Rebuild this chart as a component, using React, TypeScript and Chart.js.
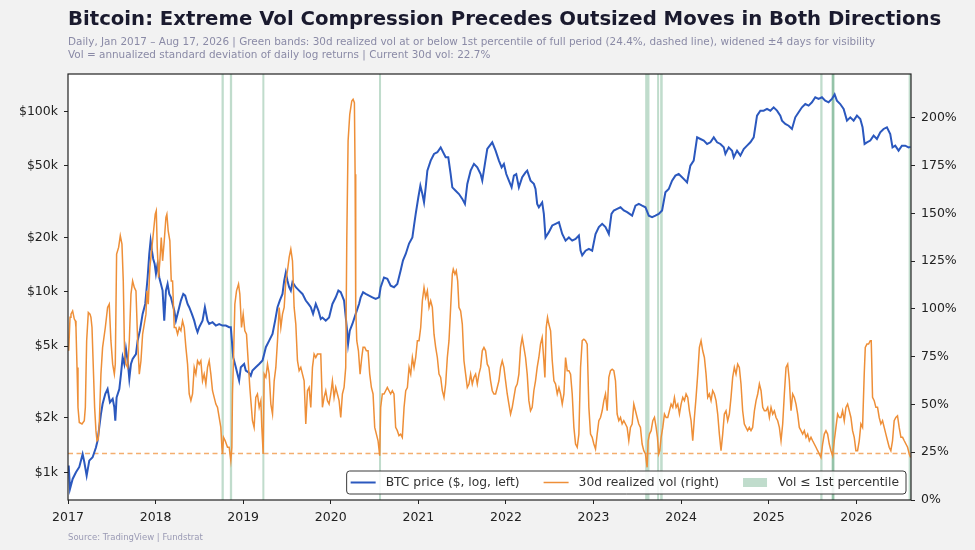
import { useEffect, useRef } from "react";
import { Chart, registerables } from "chart.js";

Chart.register(...registerables);

const TITLE = "Bitcoin: Extreme Vol Compression Precedes Outsized Moves in Both Directions";
const SUBTITLE_1 =
  "Daily, Jan 2017 \u2013 Aug 17, 2026 | Green bands: 30d realized vol at or below 1st percentile of full period (24.4%, dashed line), widened \u00b14 days for visibility";
const SUBTITLE_2 = "Vol = annualized standard deviation of daily log returns | Current 30d vol: 22.7%";
const SOURCE = "Source: TradingView | Fundstrat";

const LEGEND_LABELS = ["BTC price ($, log, left)", "30d realized vol (right)", "Vol \u2264 1st percentile"];

// x values are decimal years
const priceYears = [
  2017.008, 2017.023, 2017.053, 2017.091, 2017.129, 2017.167, 2017.186, 2017.213, 2017.243, 2017.281,
  2017.319, 2017.338, 2017.357, 2017.376, 2017.395, 2017.426, 2017.452, 2017.479, 2017.51, 2017.529,
  2017.54, 2017.555, 2017.586, 2017.605, 2017.624, 2017.643, 2017.662, 2017.681, 2017.7, 2017.719,
  2017.738, 2017.776, 2017.795, 2017.821, 2017.852, 2017.882, 2017.909, 2017.928, 2017.943, 2017.958,
  2017.973, 2017.989, 2018.004, 2018.023, 2018.042, 2018.061, 2018.08, 2018.099, 2018.118, 2018.137,
  2018.156, 2018.175, 2018.194, 2018.213, 2018.232, 2018.251, 2018.27, 2018.289, 2018.316, 2018.338,
  2018.365, 2018.384, 2018.414, 2018.441, 2018.46, 2018.479, 2018.498, 2018.536, 2018.563, 2018.593,
  2018.612, 2018.65, 2018.688, 2018.726, 2018.764, 2018.802, 2018.84, 2018.859, 2018.871, 2018.886,
  2018.916, 2018.935, 2018.954, 2018.973, 2019.011, 2019.03, 2019.061, 2019.087, 2019.106, 2019.144,
  2019.183, 2019.221, 2019.24, 2019.259, 2019.297, 2019.335, 2019.365, 2019.392, 2019.418, 2019.449,
  2019.468, 2019.487, 2019.506, 2019.525, 2019.544, 2019.563, 2019.601, 2019.639, 2019.677, 2019.715,
  2019.745, 2019.772, 2019.798, 2019.829, 2019.859, 2019.886, 2019.905, 2019.943, 2019.981, 2020.019,
  2020.057, 2020.087, 2020.114, 2020.152, 2020.183, 2020.198, 2020.217, 2020.247, 2020.285, 2020.323,
  2020.342, 2020.369, 2020.399, 2020.437, 2020.475, 2020.513, 2020.551, 2020.57, 2020.608, 2020.646,
  2020.684, 2020.722, 2020.76, 2020.798, 2020.825, 2020.856, 2020.894, 2020.932, 2020.951, 2020.97,
  2021.0, 2021.023, 2021.046, 2021.065, 2021.084, 2021.103, 2021.141, 2021.179, 2021.217, 2021.255,
  2021.293, 2021.312, 2021.342, 2021.369, 2021.388, 2021.426, 2021.464, 2021.502, 2021.532, 2021.559,
  2021.597, 2021.635, 2021.673, 2021.711, 2021.73, 2021.76, 2021.787, 2021.844, 2021.882, 2021.92,
  2021.951, 2021.977, 2022.004, 2022.034, 2022.065, 2022.091, 2022.118, 2022.148, 2022.186, 2022.224,
  2022.243, 2022.281, 2022.319, 2022.338, 2022.357, 2022.376, 2022.414, 2022.433, 2022.452, 2022.49,
  2022.529, 2022.567, 2022.605, 2022.643, 2022.681, 2022.719, 2022.757, 2022.795, 2022.833, 2022.852,
  2022.871, 2022.909, 2022.947, 2022.985, 2023.023, 2023.061, 2023.099, 2023.137, 2023.175, 2023.205,
  2023.232, 2023.27, 2023.308, 2023.346, 2023.384, 2023.441, 2023.479, 2023.517, 2023.555, 2023.593,
  2023.631, 2023.669, 2023.707, 2023.745, 2023.783, 2023.821, 2023.859, 2023.897, 2023.935, 2023.973,
  2024.011, 2024.049, 2024.068, 2024.106, 2024.144, 2024.183, 2024.221, 2024.259, 2024.297, 2024.335,
  2024.373, 2024.411, 2024.449, 2024.487, 2024.506, 2024.544, 2024.582, 2024.601, 2024.639, 2024.677,
  2024.715, 2024.753, 2024.791, 2024.829, 2024.867, 2024.905, 2024.943, 2024.981, 2025.019, 2025.057,
  2025.095, 2025.133, 2025.152, 2025.19, 2025.228, 2025.266, 2025.304, 2025.342, 2025.38, 2025.418,
  2025.456, 2025.494, 2025.532, 2025.57, 2025.608, 2025.646, 2025.684, 2025.722, 2025.753, 2025.779,
  2025.817, 2025.856, 2025.894, 2025.932, 2025.97, 2026.008, 2026.046, 2026.072, 2026.095, 2026.122,
  2026.16, 2026.198, 2026.236, 2026.274, 2026.312, 2026.35, 2026.388, 2026.414, 2026.445, 2026.483,
  2026.521, 2026.559, 2026.597, 2026.62,
];

const priceUSD = [
  1090, 808, 918, 1000, 1070, 1260, 1140, 958, 1160, 1210,
  1370, 1500, 1780, 2100, 2390, 2720, 2890, 2440, 2550, 2290,
  1930, 2600, 2890, 3500, 4340, 3980, 4820, 4160, 3290, 3980,
  4250, 4520, 5360, 6090, 7540, 8560, 12000, 16200, 19200, 16900,
  15200, 14300, 12600, 14300, 12000, 11050, 10150, 6920, 10150, 11050,
  9730, 9320, 8560, 7870, 6920, 7540, 8210, 8940, 9730, 9520,
  8560, 8210, 7540, 6920, 6360, 5970, 6360, 6920, 8210, 6920,
  6630, 6780, 6500, 6630, 6500, 6500, 6360, 6360, 5360, 4340,
  3820, 3500, 3220, 3820, 3980, 3660, 3580, 3430, 3660, 3820,
  3980, 4160, 4520, 4930, 5360, 5840, 6920, 8210, 8940, 9730,
  11500, 12800, 11500, 10600, 10150, 11300, 10600, 10150, 9730, 8940,
  8560, 8210, 7540, 8560, 7870, 7070, 7200, 6920, 7200, 8560,
  9320, 10150, 9940, 8940, 6360, 5140, 6090, 6630, 7540, 8560,
  9320, 9940, 9730, 9520, 9320, 9130, 9320, 10600, 12000, 11800,
  10800, 10600, 11050, 13100, 14950, 16200, 18500, 20000, 23300, 27000,
  33400, 38700, 34800, 31300, 37900, 46900, 53300, 58000, 59300, 63100,
  58000, 55600, 55600, 44900, 37900, 36300, 34800, 32700, 30700, 39600,
  46900, 51100, 48900, 44900, 41300, 51100, 61800, 67300, 60500, 53300,
  48900, 51100, 44900, 41300, 37900, 44000, 44900, 37900, 43100, 45900,
  46900, 41300, 39600, 37100, 30700, 29400, 31300, 27000, 20000, 21400,
  23300, 23800, 24300, 20900, 19200, 20000, 19200, 19600, 20500, 16900,
  15900, 16900, 17300, 16900, 20900, 22800, 23800, 22800, 20900, 27000,
  28200, 28800, 29400, 28200, 27600, 26400, 30000, 30700, 30000, 29400,
  26400, 25900, 26400, 27000, 28200, 35600, 37100, 41300, 44000, 44900,
  43100, 41300, 40400, 50000, 53300, 71700, 70200, 68800, 65900, 67300,
  71700, 67300, 65900, 63100, 58000, 63100, 60500, 55600, 60500, 56800,
  61800, 64500, 67300, 71700, 94600, 100800, 100800, 103000, 100800, 105200,
  100800, 94600, 88800, 85100, 83200, 79800, 92600, 98700, 105200, 109700,
  107500, 112100, 119500, 117000, 119500, 114500, 112100, 117000, 124000, 114500,
  109700, 103000, 88800, 92600, 88800, 94600, 90700, 81500, 65900, 67300,
  68800, 73300, 70200, 76400, 79800, 81500, 74800, 63100, 64500, 60500,
  64500, 64500, 63100, 63500,
];

const volYears = [
  2017.008, 2017.023, 2017.034, 2017.053, 2017.072, 2017.084, 2017.091, 2017.103, 2017.114, 2017.129,
  2017.16, 2017.186, 2017.198, 2017.213, 2017.232, 2017.251, 2017.262, 2017.274, 2017.289, 2017.304,
  2017.319, 2017.331, 2017.346, 2017.357, 2017.376, 2017.395, 2017.426, 2017.452, 2017.471, 2017.49,
  2017.51, 2017.529, 2017.54, 2017.555, 2017.578, 2017.597, 2017.616, 2017.631, 2017.646, 2017.662,
  2017.681, 2017.7, 2017.719, 2017.738, 2017.757, 2017.776, 2017.795, 2017.814, 2017.833, 2017.852,
  2017.871, 2017.89, 2017.901, 2017.916, 2017.935, 2017.958, 2017.977, 2017.996, 2018.008, 2018.019,
  2018.034, 2018.049, 2018.065, 2018.08, 2018.099, 2018.118, 2018.129, 2018.144, 2018.163, 2018.179,
  2018.194, 2018.213, 2018.232, 2018.251, 2018.27, 2018.289, 2018.308, 2018.327, 2018.346, 2018.365,
  2018.384, 2018.403, 2018.422, 2018.441, 2018.46, 2018.479, 2018.498, 2018.517, 2018.536, 2018.555,
  2018.574, 2018.593, 2018.612, 2018.631, 2018.65, 2018.669, 2018.688, 2018.707, 2018.726, 2018.745,
  2018.757, 2018.764, 2018.776, 2018.795, 2018.821, 2018.84, 2018.859, 2018.871, 2018.878, 2018.89,
  2018.905, 2018.924, 2018.947, 2018.962, 2018.981, 2019.0, 2019.019, 2019.038, 2019.057, 2019.076,
  2019.091, 2019.106, 2019.125, 2019.144, 2019.163, 2019.183, 2019.202, 2019.213, 2019.221, 2019.228,
  2019.24, 2019.259, 2019.278, 2019.297, 2019.316, 2019.335, 2019.354, 2019.373, 2019.392, 2019.411,
  2019.43, 2019.449, 2019.468, 2019.487, 2019.506, 2019.525, 2019.544, 2019.563, 2019.582, 2019.601,
  2019.62, 2019.639, 2019.658, 2019.677, 2019.696, 2019.715, 2019.734, 2019.753, 2019.772, 2019.791,
  2019.81, 2019.829, 2019.848, 2019.867, 2019.886, 2019.905, 2019.924, 2019.943, 2019.962, 2019.981,
  2020.0, 2020.019, 2020.038, 2020.057, 2020.076, 2020.095, 2020.114, 2020.133, 2020.152, 2020.171,
  2020.183, 2020.198, 2020.217, 2020.24, 2020.255, 2020.27, 2020.278, 2020.285, 2020.297, 2020.316,
  2020.335, 2020.354, 2020.369, 2020.388, 2020.407, 2020.426, 2020.445, 2020.464, 2020.483, 2020.502,
  2020.521, 2020.54, 2020.559, 2020.57, 2020.589, 2020.608, 2020.627, 2020.646, 2020.665, 2020.684,
  2020.703, 2020.722, 2020.741, 2020.76, 2020.779, 2020.798, 2020.817, 2020.837, 2020.856, 2020.875,
  2020.894, 2020.913, 2020.932, 2020.951, 2020.97, 2020.989, 2021.008, 2021.027, 2021.046, 2021.065,
  2021.084, 2021.103, 2021.122, 2021.141, 2021.16, 2021.179, 2021.198, 2021.217, 2021.236, 2021.255,
  2021.274, 2021.293, 2021.312, 2021.331, 2021.35, 2021.369, 2021.388, 2021.399, 2021.418, 2021.433,
  2021.449, 2021.464, 2021.483, 2021.502, 2021.521, 2021.54, 2021.559, 2021.578, 2021.597, 2021.616,
  2021.635, 2021.654, 2021.673, 2021.692, 2021.711, 2021.73, 2021.749, 2021.768, 2021.787, 2021.806,
  2021.825, 2021.844, 2021.863, 2021.882, 2021.901, 2021.92, 2021.939, 2021.958, 2021.977, 2021.996,
  2022.015, 2022.034, 2022.053, 2022.072, 2022.091, 2022.11, 2022.129, 2022.148, 2022.167, 2022.186,
  2022.205, 2022.224, 2022.243, 2022.262, 2022.281, 2022.3, 2022.319, 2022.338, 2022.357, 2022.376,
  2022.395, 2022.414, 2022.433, 2022.445, 2022.46, 2022.475, 2022.49, 2022.51, 2022.529, 2022.548,
  2022.567, 2022.586, 2022.605, 2022.624, 2022.643, 2022.662, 2022.681, 2022.7, 2022.719, 2022.738,
  2022.757, 2022.776, 2022.795, 2022.814, 2022.833, 2022.852, 2022.871, 2022.89, 2022.909, 2022.928,
  2022.947, 2022.966, 2022.985, 2023.004, 2023.023, 2023.042, 2023.061, 2023.08, 2023.099, 2023.118,
  2023.137, 2023.156, 2023.175, 2023.194, 2023.213, 2023.232, 2023.251, 2023.27, 2023.289, 2023.308,
  2023.327, 2023.346, 2023.365, 2023.384, 2023.403, 2023.422, 2023.441, 2023.46, 2023.479, 2023.498,
  2023.517, 2023.536, 2023.555, 2023.574, 2023.593, 2023.612, 2023.624, 2023.639, 2023.658, 2023.677,
  2023.696, 2023.715, 2023.73, 2023.745, 2023.757, 2023.772, 2023.791, 2023.81, 2023.829, 2023.848,
  2023.867, 2023.886, 2023.905, 2023.924, 2023.943, 2023.962, 2023.981, 2024.0, 2024.019, 2024.038,
  2024.057, 2024.076, 2024.095, 2024.114, 2024.133, 2024.152, 2024.171, 2024.19, 2024.209, 2024.228,
  2024.247, 2024.266, 2024.285, 2024.304, 2024.323, 2024.342, 2024.361, 2024.38, 2024.399, 2024.418,
  2024.437, 2024.456, 2024.475, 2024.494, 2024.513, 2024.532, 2024.551, 2024.57, 2024.589, 2024.608,
  2024.627, 2024.646, 2024.665, 2024.684, 2024.703, 2024.722, 2024.741, 2024.76, 2024.779, 2024.798,
  2024.817, 2024.837, 2024.856, 2024.875, 2024.894, 2024.913, 2024.932, 2024.951, 2024.97, 2024.989,
  2025.008, 2025.027, 2025.046, 2025.065, 2025.084, 2025.103, 2025.122, 2025.141, 2025.16, 2025.179,
  2025.198, 2025.217, 2025.236, 2025.255, 2025.274, 2025.293, 2025.312, 2025.331, 2025.35, 2025.369,
  2025.388, 2025.407, 2025.426, 2025.445, 2025.464, 2025.483, 2025.502, 2025.521, 2025.54, 2025.559,
  2025.578, 2025.597, 2025.616, 2025.635, 2025.654, 2025.673, 2025.692, 2025.711, 2025.73, 2025.749,
  2025.768, 2025.787, 2025.806, 2025.825, 2025.844, 2025.863, 2025.882, 2025.901, 2025.92, 2025.939,
  2025.958, 2025.977, 2025.996, 2026.015, 2026.034, 2026.053, 2026.072, 2026.091, 2026.103, 2026.122,
  2026.141, 2026.16, 2026.171, 2026.186, 2026.205, 2026.224, 2026.243, 2026.262, 2026.281, 2026.3,
  2026.319, 2026.338, 2026.357, 2026.376, 2026.395, 2026.414, 2026.433, 2026.452, 2026.471, 2026.49,
  2026.51, 2026.529, 2026.548, 2026.567, 2026.586, 2026.605, 2026.62,
];

const volPct = [
  78.1, 95.6, 97.3, 99.0, 94.7, 93.8, 90.3, 69.4, 48.5, 40.6,
  39.8, 41.5, 48.5, 83.4, 98.2, 97.3, 95.6, 90.3, 69.4, 48.5,
  36.3, 31.0, 31.9, 39.8, 65.9, 79.9, 90.3, 100.8, 102.5, 83.4,
  71.1, 65.9, 71.1, 128.7, 132.2, 138.3, 133.9, 114.7, 76.4, 71.1,
  69.4, 83.4, 107.8, 114.7, 111.3, 109.5, 83.4, 65.9, 72.9, 86.8,
  92.1, 97.3, 109.5, 102.5, 121.7, 132.2, 140.9, 149.6, 151.4, 132.2,
  116.5, 125.2, 137.4, 125.2, 135.7, 147.9, 149.6, 140.9, 135.7, 114.7,
  114.7, 90.3, 90.3, 86.8, 90.3, 88.6, 93.8, 90.3, 79.9, 71.1,
  55.5, 52.0, 55.5, 69.4, 65.9, 72.9, 71.1, 72.9, 62.4, 65.9,
  60.7, 69.4, 72.9, 65.9, 57.2, 53.7, 50.2, 48.5, 43.2, 38.0,
  27.6, 24.1, 32.8, 31.0, 27.6, 27.6, 20.6, 27.6, 55.5, 74.6,
  102.5, 109.5, 113.0, 107.8, 90.3, 97.3, 88.6, 86.8, 72.9, 58.9,
  50.2, 41.5, 38.0, 53.7, 55.5, 48.5, 52.0, 38.0, 31.0, 24.1,
  65.9, 64.2, 71.1, 65.9, 50.2, 45.0, 62.4, 69.4, 83.4, 100.8,
  90.3, 97.3, 100.8, 114.7, 120.0, 127.0, 131.3, 125.2, 100.8, 92.1,
  72.9, 67.7, 69.4, 65.9, 62.4, 39.8, 57.2, 58.9, 48.5, 69.4,
  76.4, 74.6, 76.4, 76.4, 76.4, 48.5, 53.7, 57.2, 52.0, 50.2,
  55.5, 62.4, 53.7, 58.9, 55.5, 52.0, 43.2, 55.5, 58.9, 69.4,
  135.7, 188.0, 201.9, 208.9, 209.8, 208.0, 170.5, 100.8, 83.4, 78.1,
  65.9, 74.6, 79.9, 79.9, 78.1, 78.1, 65.9, 58.9, 55.5, 38.0,
  34.5, 31.0, 23.2, 48.5, 55.5, 55.5, 57.2, 58.9, 57.2, 55.5,
  57.2, 55.5, 38.0, 36.3, 33.7, 34.5, 32.8, 48.5, 57.2, 58.9,
  69.4, 65.9, 74.6, 69.4, 74.6, 83.4, 83.4, 90.3, 104.3, 111.3,
  106.0, 109.5, 100.8, 104.3, 100.8, 86.8, 79.9, 74.6, 65.9, 64.2,
  57.2, 53.7, 60.7, 74.6, 83.4, 100.8, 118.2, 120.8, 118.2, 120.0,
  114.7, 100.8, 99.0, 92.1, 72.9, 65.9, 58.9, 60.7, 65.9, 60.7,
  64.2, 65.9, 60.7, 65.9, 69.4, 78.1, 79.9, 78.1, 71.1, 69.4,
  62.4, 57.2, 55.5, 55.5, 58.9, 62.4, 69.4, 72.9, 69.4, 62.4,
  55.5, 50.2, 45.0, 48.5, 53.7, 58.9, 60.7, 65.9, 79.9, 85.1,
  79.9, 74.6, 65.9, 52.0, 46.7, 48.5, 57.2, 62.4, 69.4, 74.6,
  81.6, 85.1, 72.9, 64.2, 90.3, 95.6, 92.1, 88.6, 72.9, 62.4,
  60.7, 55.5, 58.9, 55.5, 50.2, 55.5, 74.6, 67.7, 67.7, 65.9,
  55.5, 38.0, 29.3, 27.6, 34.5, 69.4, 83.4, 84.2, 83.4, 81.6,
  48.5, 34.5, 32.8, 29.3, 26.7, 34.5, 41.5, 43.2, 46.7, 52.0,
  55.5, 46.7, 64.2, 67.7, 68.5, 67.7, 62.4, 45.0, 41.5, 43.2,
  39.8, 41.5, 39.8, 38.0, 31.0, 38.0, 39.8, 50.2, 46.7, 43.2,
  39.8, 38.0, 29.3, 25.8, 24.1, 17.1, 31.0, 34.5, 36.3, 41.5,
  43.2, 38.0, 32.8, 24.1, 25.8, 32.8, 38.0, 45.0, 43.2, 43.2,
  46.7, 50.2, 48.5, 53.7, 48.5, 50.2, 45.0, 50.2, 53.7, 52.0,
  55.5, 53.7, 46.7, 41.5, 31.0, 43.2, 53.7, 65.9, 79.9, 83.4,
  78.1, 74.6, 65.9, 53.7, 55.5, 52.0, 57.2, 55.5, 52.0, 45.0,
  34.5, 25.8, 34.5, 45.0, 46.7, 41.5, 45.0, 53.7, 64.2, 69.4,
  65.9, 71.1, 69.4, 60.7, 46.7, 39.8, 38.0, 36.3, 38.0, 36.3,
  38.0, 46.7, 52.0, 55.5, 60.7, 57.2, 48.5, 46.7, 46.7, 48.5,
  43.2, 48.5, 45.0, 46.7, 43.2, 41.5, 38.0, 31.0, 39.8, 55.5,
  69.4, 71.1, 62.4, 46.7, 55.5, 53.7, 50.2, 45.0, 38.0, 36.3,
  34.5, 36.3, 32.8, 34.5, 31.0, 32.8, 31.0, 29.3, 27.6, 25.8,
  24.1, 22.3, 29.3, 34.5, 36.3, 34.5, 29.3, 25.8, 23.2, 31.0,
  38.0, 45.0, 43.2, 43.2, 46.7, 41.5, 48.5, 50.2, 46.7, 43.2,
  36.3, 32.8, 25.8, 25.8, 31.0, 39.8, 38.0, 65.9, 79.9, 81.6,
  81.6, 83.4, 83.4, 53.7, 52.0, 48.5, 48.5, 43.2, 39.8, 41.5,
  38.0, 34.5, 31.0, 27.6, 25.8, 31.0, 41.5, 43.2, 44.1, 38.0,
  32.8, 32.8, 31.0, 29.3, 27.6, 24.1, 22.3,
];

// low-vol bands (decimal years), drawn with transparency so overlaps look darker
const bandStart = [2018.753, 2018.848, 2019.219, 2020.551, 2023.59, 2023.726, 2023.761, 2025.589, 2025.718, 2025.722, 2026.598];
const bandEnd = [2018.779, 2018.874, 2019.242, 2020.574, 2023.639, 2023.749, 2023.79, 2025.615, 2025.748, 2025.752, 2026.625];

const VOL_P1 = 24.4;

const yearTicks = [2017, 2018, 2019, 2020, 2021, 2022, 2023, 2024, 2025, 2026];
const priceTicks = [1000, 2000, 5000, 10000, 20000, 50000, 100000];
const priceTickLabels = ["$1k", "$2k", "$5k", "$10k", "$20k", "$50k", "$100k"];
const volTicks = [0, 25, 50, 75, 100, 125, 150, 175, 200];

const X_MIN = 2017;
const X_MAX = 2026.625;
const PRICE_MIN = 702;
const PRICE_MAX = 160900;
const VOL_MIN = 0;
const VOL_MAX = 223;

const BLUE = "#2b58be";
const ORANGE = "#ee8f38";
const BAND = "rgba(46, 139, 87, 0.3)";
const FONT = "'DejaVu Sans', 'Liberation Sans', sans-serif";
const AXIS_COLOR = "#222222";

export default function App() {
  const canvasRef = useRef<HTMLCanvasElement | null>(null);

  useEffect(() => {
    const canvas = canvasRef.current;
    if (!canvas) return;

    const backgroundPlugin = {
      id: "plotBackground",
      beforeDraw(chart: any) {
        const { ctx, chartArea } = chart;
        ctx.save();
        ctx.fillStyle = "#ffffff";
        ctx.fillRect(chartArea.left, chartArea.top, chartArea.right - chartArea.left, chartArea.bottom - chartArea.top);
        ctx.restore();
      },
    };

    const bandsPlugin = {
      id: "volBands",
      beforeDatasetsDraw(chart: any) {
        const { ctx, chartArea, scales } = chart;
        const xs = scales.x;
        ctx.save();
        ctx.beginPath();
        ctx.rect(chartArea.left, chartArea.top, chartArea.right - chartArea.left, chartArea.bottom - chartArea.top);
        ctx.clip();
        ctx.fillStyle = BAND;
        for (let i = 0; i < bandStart.length; i++) {
          const x0 = xs.getPixelForValue(bandStart[i]);
          const x1 = xs.getPixelForValue(bandEnd[i]);
          ctx.fillRect(x0, chartArea.top, Math.max(1, x1 - x0), chartArea.bottom - chartArea.top);
        }
        // percentile dashed line
        const yv = Math.round(scales.yVol.getPixelForValue(VOL_P1)) + 0.5;
        ctx.strokeStyle = "rgba(242, 160, 85, 0.85)";
        ctx.lineWidth = 1.4;
        ctx.setLineDash([5, 3.5]);
        ctx.beginPath();
        ctx.moveTo(chartArea.left, yv);
        ctx.lineTo(chartArea.right, yv);
        ctx.stroke();
        ctx.restore();
      },
    };

    const framePlugin = {
      id: "frameAndLegend",
      afterDraw(chart: any) {
        const { ctx, chartArea } = chart;
        ctx.save();
        ctx.strokeStyle = AXIS_COLOR;
        ctx.lineWidth = 1.2;
        ctx.strokeRect(chartArea.left, chartArea.top, chartArea.right - chartArea.left, chartArea.bottom - chartArea.top);

        // legend
        ctx.font = `12.3px ${FONT}`;
        const w = LEGEND_LABELS.map((t) => ctx.measureText(t).width);
        const sample = 25;
        const gap = 10;
        const spacing = 24;
        const total = 4 + sample + gap + w[0] + spacing + sample + gap + w[1] + spacing + sample + gap + w[2] + 7;
        const right = chartArea.right - 5;
        const left = right - total;
        const bottom = chartArea.bottom - 6;
        const h = 23;
        const top = bottom - h;
        const cy = top + h / 2;
        ctx.beginPath();
        const r = 3;
        ctx.moveTo(left + r, top);
        ctx.lineTo(right - r, top);
        ctx.quadraticCurveTo(right, top, right, top + r);
        ctx.lineTo(right, bottom - r);
        ctx.quadraticCurveTo(right, bottom, right - r, bottom);
        ctx.lineTo(left + r, bottom);
        ctx.quadraticCurveTo(left, bottom, left, bottom - r);
        ctx.lineTo(left, top + r);
        ctx.quadraticCurveTo(left, top, left + r, top);
        ctx.closePath();
        ctx.fillStyle = "rgba(255,255,255,0.85)";
        ctx.fill();
        ctx.strokeStyle = "#3a3a3a";
        ctx.lineWidth = 1;
        ctx.stroke();

        let x = left + 4;
        ctx.textBaseline = "middle";
        ctx.textAlign = "left";
        // entry 1
        ctx.strokeStyle = BLUE;
        ctx.lineWidth = 2;
        ctx.beginPath();
        ctx.moveTo(x, cy);
        ctx.lineTo(x + sample, cy);
        ctx.stroke();
        x += sample + gap;
        ctx.fillStyle = "#333333";
        ctx.fillText(LEGEND_LABELS[0], x, cy + 0.5);
        x += w[0] + spacing;
        // entry 2
        ctx.strokeStyle = ORANGE;
        ctx.lineWidth = 1.5;
        ctx.beginPath();
        ctx.moveTo(x, cy);
        ctx.lineTo(x + sample, cy);
        ctx.stroke();
        x += sample + gap;
        ctx.fillText(LEGEND_LABELS[1], x, cy + 0.5);
        x += w[1] + spacing;
        // entry 3
        ctx.fillStyle = BAND;
        ctx.fillRect(x, cy - 4.5, sample - 1, 9);
        x += sample + gap;
        ctx.fillStyle = "#333333";
        ctx.fillText(LEGEND_LABELS[2], x, cy + 0.5);
        ctx.restore();
      },
    };

    const tickFont = { family: FONT, size: 12.5 };

    const chart = new Chart(canvas, {
      type: "line",
      data: {
        datasets: [
          {
            label: LEGEND_LABELS[0],
            data: priceYears.map((x, i) => ({ x, y: priceUSD[i] })),
            yAxisID: "yPrice",
            borderColor: BLUE,
            borderWidth: 2,
            pointRadius: 0,
            tension: 0,
            order: 1,
          },
          {
            label: LEGEND_LABELS[1],
            data: volYears.map((x, i) => ({ x, y: volPct[i] })),
            yAxisID: "yVol",
            borderColor: ORANGE,
            borderWidth: 1.5,
            pointRadius: 0,
            tension: 0,
            order: 0,
          },
        ],
      },
      options: {
        animation: false,
        responsive: false,
        maintainAspectRatio: false,
        layout: { padding: { top: 74, left: 0, right: 0, bottom: 0 } },
        plugins: {
          legend: { display: false },
          tooltip: { enabled: false },
          title: { display: false },
        },
        scales: {
          x: {
            type: "linear",
            min: X_MIN,
            max: X_MAX,
            afterBuildTicks: (scale: any) => {
              scale.ticks = yearTicks.map((v) => ({ value: v }));
            },
            afterFit: (scale: any) => {
              scale.height = 50;
            },
            ticks: {
              callback: (v: any) => String(v),
              font: tickFont,
              color: AXIS_COLOR,
              padding: 6,
              maxRotation: 0,
              autoSkip: false,
            },
            grid: { drawOnChartArea: false, drawTicks: true, tickLength: 4, tickColor: AXIS_COLOR, tickWidth: 1 },
            border: { display: false },
          },
          yPrice: {
            type: "logarithmic",
            position: "left",
            min: PRICE_MIN,
            max: PRICE_MAX,
            afterBuildTicks: (scale: any) => {
              scale.ticks = priceTicks.map((v) => ({ value: v }));
            },
            afterFit: (scale: any) => {
              scale.width = 68;
            },
            ticks: {
              callback: (_v: any, i: number) => priceTickLabels[i],
              font: tickFont,
              color: AXIS_COLOR,
              padding: 6,
              autoSkip: false,
            },
            grid: { drawOnChartArea: false, drawTicks: true, tickLength: 4, tickColor: AXIS_COLOR, tickWidth: 1 },
            border: { display: false },
          },
          yVol: {
            type: "linear",
            position: "right",
            min: VOL_MIN,
            max: VOL_MAX,
            afterBuildTicks: (scale: any) => {
              scale.ticks = volTicks.map((v) => ({ value: v }));
            },
            afterFit: (scale: any) => {
              scale.width = 64;
            },
            ticks: {
              callback: (v: any) => `${v}%`,
              font: tickFont,
              color: AXIS_COLOR,
              padding: 6,
              autoSkip: false,
            },
            grid: { drawOnChartArea: false, drawTicks: true, tickLength: 4, tickColor: AXIS_COLOR, tickWidth: 1 },
            border: { display: false },
          },
        },
      },
      plugins: [backgroundPlugin, bandsPlugin, framePlugin],
    } as any);

    return () => {
      chart.destroy();
    };
  }, []);

  return (
    <div
      style={{
        position: "fixed",
        left: 0,
        top: 0,
        width: 975,
        height: 550,
        background: "#f2f2f2",
        fontFamily: FONT,
        overflow: "hidden",
      }}
    >
      <canvas ref={canvasRef} width={975} height={550} style={{ position: "absolute", left: 0, top: 0, width: 975, height: 550 }} />
      <div
        style={{
          position: "absolute",
          left: 68,
          top: 8,
          fontSize: 19.7,
          lineHeight: "21px",
          fontWeight: "bold",
          color: "#1a1a2e",
          whiteSpace: "nowrap",
        }}
      >
        {TITLE}
      </div>
      <div style={{ position: "absolute", left: 68, top: 35, fontSize: 10.45, lineHeight: "12px", color: "#8a8aa6", whiteSpace: "nowrap" }}>
        {SUBTITLE_1}
      </div>
      <div style={{ position: "absolute", left: 68, top: 47.5, fontSize: 10.45, lineHeight: "12px", color: "#8a8aa6", whiteSpace: "nowrap" }}>
        {SUBTITLE_2}
      </div>
      <div style={{ position: "absolute", left: 68, top: 532, fontSize: 8.5, lineHeight: "10px", color: "#9a9ab4", whiteSpace: "nowrap" }}>
        {SOURCE}
      </div>
    </div>
  );
}
